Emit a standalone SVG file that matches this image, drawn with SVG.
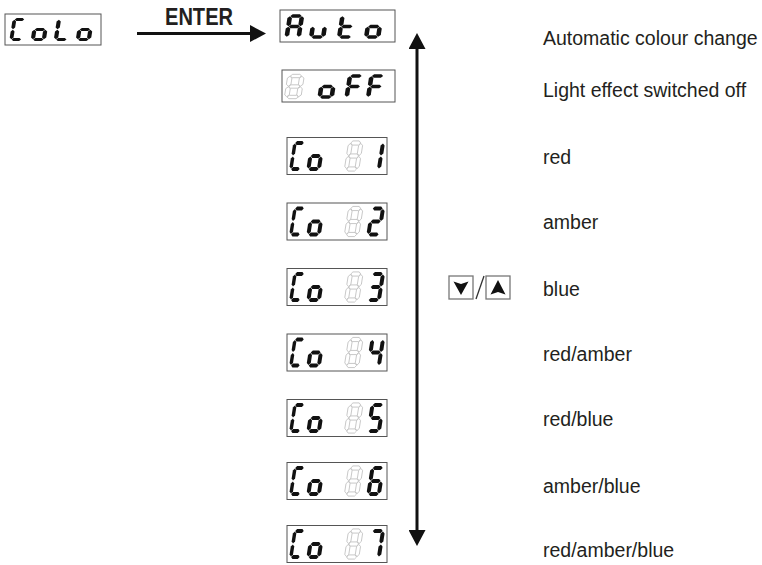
<svg xmlns="http://www.w3.org/2000/svg" width="762" height="565" viewBox="0 0 762 565">
  <style>
    .lcd { fill: #fff; stroke: #555; stroke-width: 1; }
    .on { fill: #111; stroke: none; }
    .dim { fill: #fff; stroke: #b0b0b0; stroke-width: 0.7; }
    .lbl { font-family: "Liberation Sans", Arial, sans-serif; font-size: 19.5px; fill: #231f20; }
    .enter { font-family: "Liberation Sans", Arial, sans-serif; font-size: 24px; font-weight: bold; fill: #231f20; }
    .conn { fill: none; stroke: #111; stroke-width: 3; }
    .key { fill: #fff; stroke: #777; stroke-width: 1.3; }
    .tri { fill: #111; }
  </style>
  <defs>
    <!-- seven-segment cell: centre lines at x 0..1, y 0..2 (scaled per display) -->
    <polygon id="sa" points="0.03,0 0.2,-0.16 0.8,-0.16 0.97,0 0.8,0.16 0.2,0.16" vector-effect="non-scaling-stroke"/>
    <polygon id="sg" points="0.03,1 0.2,0.84 0.8,0.84 0.97,1 0.8,1.16 0.2,1.16" vector-effect="non-scaling-stroke"/>
    <polygon id="sd" points="0.03,2 0.2,1.84 0.8,1.84 0.97,2 0.8,2.16 0.2,2.16" vector-effect="non-scaling-stroke"/>
    <polygon id="sf" points="0,0.03 0.19,0.2 0.19,0.8 0,0.97 -0.19,0.8 -0.19,0.2" vector-effect="non-scaling-stroke"/>
    <polygon id="sb" points="1,0.03 1.19,0.2 1.19,0.8 1,0.97 0.81,0.8 0.81,0.2" vector-effect="non-scaling-stroke"/>
    <polygon id="se" points="0,1.03 0.19,1.2 0.19,1.8 0,1.97 -0.19,1.8 -0.19,1.2" vector-effect="non-scaling-stroke"/>
    <polygon id="sc" points="1,1.03 1.19,1.2 1.19,1.8 1,1.97 0.81,1.8 0.81,1.2" vector-effect="non-scaling-stroke"/>

    <g id="chC"><use href="#sa"/><use href="#sd"/><use href="#se"/><use href="#sf"/></g>
    <g id="cho"><use href="#sc"/><use href="#sd"/><use href="#se"/><use href="#sg"/></g>
    <g id="chL"><use href="#sd"/><use href="#se"/><use href="#sf"/></g>
    <g id="chA"><use href="#sa"/><use href="#sb"/><use href="#sc"/><use href="#se"/><use href="#sf"/><use href="#sg"/></g>
    <g id="chu"><use href="#sc"/><use href="#sd"/><use href="#se"/></g>
    <g id="cht"><use href="#sd"/><use href="#se"/><use href="#sf"/><use href="#sg"/></g>
    <g id="chF"><use href="#sa"/><use href="#se"/><use href="#sf"/><use href="#sg"/></g>
    <g id="ch8"><use href="#sa"/><use href="#sb"/><use href="#sc"/><use href="#sd"/><use href="#se"/><use href="#sf"/><use href="#sg"/></g>
    <g id="ch1"><use href="#sb"/><use href="#sc"/></g>
    <g id="ch2"><use href="#sa"/><use href="#sb"/><use href="#sg"/><use href="#se"/><use href="#sd"/></g>
    <g id="ch3"><use href="#sa"/><use href="#sb"/><use href="#sg"/><use href="#sc"/><use href="#sd"/></g>
    <g id="ch4"><use href="#sf"/><use href="#sg"/><use href="#sb"/><use href="#sc"/></g>
    <g id="ch5"><use href="#sa"/><use href="#sf"/><use href="#sg"/><use href="#sc"/><use href="#sd"/></g>
    <g id="ch6"><use href="#sa"/><use href="#sf"/><use href="#sg"/><use href="#se"/><use href="#sc"/><use href="#sd"/></g>
    <g id="ch7"><use href="#sa"/><use href="#sb"/><use href="#sc"/></g>

    <!-- common part of the "Co" displays, centred on y = 0 -->
    <g id="coFrame">
      <rect class="lcd" x="287" y="-18.5" width="100" height="37"/>
      <use href="#chC" class="on" transform="translate(295,-13) skewX(-9) scale(9,13)"/>
      <use href="#cho" class="on" transform="translate(312.5,-13) skewX(-9) scale(10.5,13)"/>
      <use href="#ch8" class="dim" transform="translate(350.5,-13) skewX(-9) scale(10.5,13)"/>
    </g>

    <marker id="head" markerUnits="userSpaceOnUse" viewBox="0 0 16 17" markerWidth="16" markerHeight="17" refX="0" refY="8.5" orient="auto-start-reverse">
      <path d="M0,0 L16,8.5 L0,17 Z" fill="#111"/>
    </marker>
  </defs>

  <rect width="762" height="565" fill="#fff"/>

  <!-- connectors -->
  <g id="connectors">
    <path class="conn" d="M137,33.5 H250" marker-end="url(#head)"/>
    <text class="enter" x="165" y="25" textLength="68" lengthAdjust="spacingAndGlyphs">ENTER</text>
    <path class="conn" d="M417,49 V530" marker-start="url(#head)" marker-end="url(#head)"/>
  </g>

  <!-- menu entry -->
  <g id="colo">
    <rect class="lcd" x="5" y="14" width="96" height="31"/>
    <use href="#chC" class="on" transform="translate(14.5,19.5) skewX(-9) scale(10,10)"/>
    <use href="#cho" class="on" transform="translate(36,19.5) skewX(-9) scale(11,10)"/>
    <use href="#chL" class="on" transform="translate(59,19.5) skewX(-9) scale(11,10)"/>
    <use href="#cho" class="on" transform="translate(81,19.5) skewX(-9) scale(11,10)"/>
  </g>

  <g id="auto">
    <rect class="lcd" x="280" y="10" width="115" height="32"/>
    <use href="#chA" class="on" transform="translate(290,16) skewX(-9) scale(12,10.5)"/>
    <use href="#chu" class="on" transform="translate(314.5,16) skewX(-9) scale(12,10.5)"/>
    <use href="#cht" class="on" transform="translate(342.5,16) skewX(-9) scale(12,10.5)"/>
    <use href="#cho" class="on" transform="translate(369.5,16) skewX(-9) scale(12,10.5)"/>
    <text class="lbl" x="543" y="45">Automatic colour change</text>
  </g>

  <g id="off">
    <rect class="lcd" x="282" y="70" width="113" height="32"/>
    <use href="#ch8" class="dim" transform="translate(290,76) skewX(-9) scale(12,10.5)"/>
    <use href="#cho" class="on" transform="translate(323,76) skewX(-9) scale(12,10.5)"/>
    <use href="#chF" class="on" transform="translate(350,76) skewX(-9) scale(12,10.5)"/>
    <use href="#chF" class="on" transform="translate(371.5,76) skewX(-9) scale(12,10.5)"/>
    <text class="lbl" x="543" y="97">Light effect switched off</text>
  </g>

  <g id="co1">
    <g transform="translate(0,156)"><use href="#coFrame"/><use href="#ch1" class="on" transform="translate(372.5,-13) skewX(-9) scale(10.5,13)"/></g>
    <text class="lbl" x="543" y="164">red</text>
  </g>
  <g id="co2">
    <g transform="translate(0,221.5)"><use href="#coFrame"/><use href="#ch2" class="on" transform="translate(372.5,-13) skewX(-9) scale(10.5,13)"/></g>
    <text class="lbl" x="543" y="229">amber</text>
  </g>
  <g id="co3">
    <g transform="translate(0,287)"><use href="#coFrame"/><use href="#ch3" class="on" transform="translate(372.5,-13) skewX(-9) scale(10.5,13)"/></g>
    <text class="lbl" x="543" y="296">blue</text>
  </g>
  <g id="co4">
    <g transform="translate(0,352.5)"><use href="#coFrame"/><use href="#ch4" class="on" transform="translate(372.5,-13) skewX(-9) scale(10.5,13)"/></g>
    <text class="lbl" x="543" y="361">red/amber</text>
  </g>
  <g id="co5">
    <g transform="translate(0,418)"><use href="#coFrame"/><use href="#ch5" class="on" transform="translate(372.5,-13) skewX(-9) scale(10.5,13)"/></g>
    <text class="lbl" x="543" y="426">red/blue</text>
  </g>
  <g id="co6">
    <g transform="translate(0,481)"><use href="#coFrame"/><use href="#ch6" class="on" transform="translate(372.5,-13) skewX(-9) scale(10.5,13)"/></g>
    <text class="lbl" x="543" y="493">amber/blue</text>
  </g>
  <g id="co7">
    <g transform="translate(0,544)"><use href="#coFrame"/><use href="#ch7" class="on" transform="translate(372.5,-13) skewX(-9) scale(10.5,13)"/></g>
    <text class="lbl" x="543" y="557">red/amber/blue</text>
  </g>

  <!-- down / up keys -->
  <g id="keys">
    <rect class="key" x="449" y="276" width="24" height="23"/>
    <path class="tri" d="M453.5,281.5 L461,284 L468.5,281.5 L461,295 Z"/>
    <path d="M476,299 L484,276" fill="none" stroke="#333" stroke-width="1.3"/>
    <rect class="key" x="486" y="276" width="24" height="23"/>
    <path class="tri" d="M490.5,294.5 L498,292 L505.5,294.5 L498,280 Z"/>
  </g>
</svg>
